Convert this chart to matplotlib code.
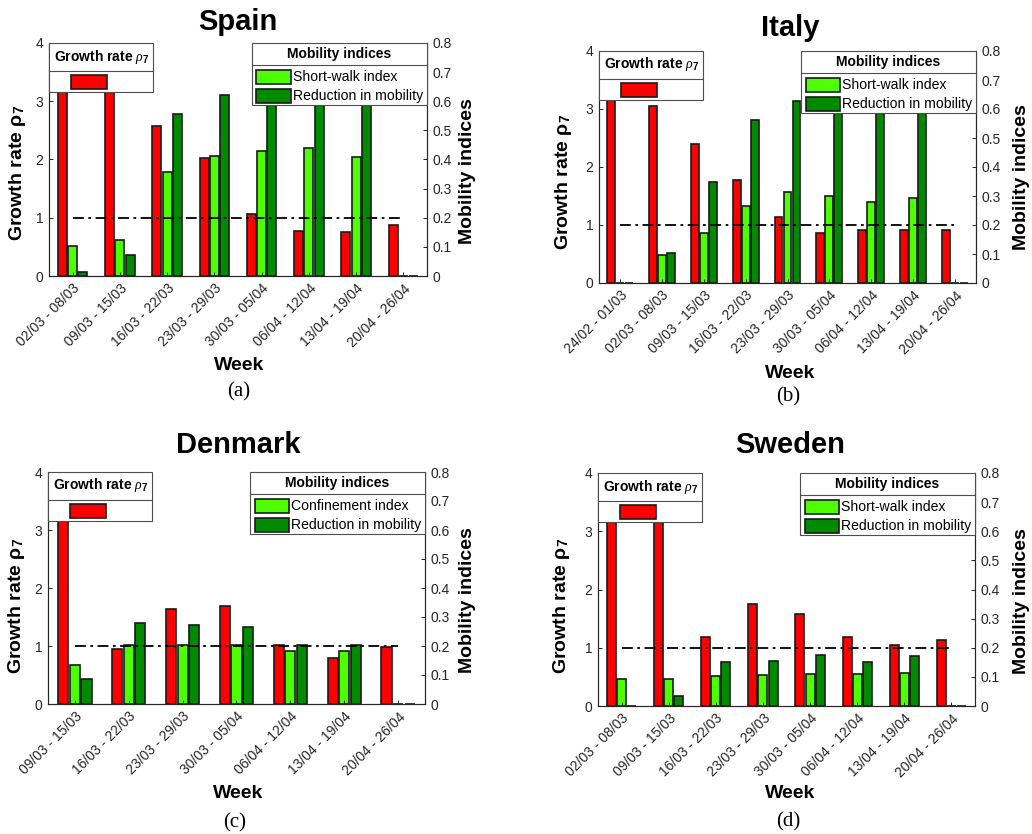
import numpy as np
import matplotlib
matplotlib.use("Agg")
import matplotlib.pyplot as plt
from matplotlib.patches import Rectangle
from matplotlib.lines import Line2D

plt.rcParams['font.family'] = ['Liberation Sans', 'DejaVu Sans']
plt.rcParams['mathtext.fontset'] = 'custom'
plt.rcParams['mathtext.rm'] = 'Liberation Sans'
plt.rcParams['mathtext.it'] = 'Liberation Serif:italic'
plt.rcParams['mathtext.bf'] = 'Liberation Sans:bold'

# ---- data -------------------------------------------------------------
weeks_es = ["02/03 - 08/03", "09/03 - 15/03", "16/03 - 22/03", "23/03 - 29/03",
            "30/03 - 05/04", "06/04 - 12/04", "13/04 - 19/04", "20/04 - 26/04"]
growth_es = [4.8, 4.4, 2.58, 2.03, 1.07, 0.77, 0.75, 0.87]
index_es = [0.102, 0.123, 0.358, 0.411, 0.43, 0.44, 0.41, 0.0]
reduction_es = [0.014, 0.073, 0.556, 0.62, 0.66, 0.68, 0.67, 0.0]

weeks_it = ["24/02 - 01/03", "02/03 - 08/03", "09/03 - 15/03", "16/03 - 22/03",
            "23/03 - 29/03", "30/03 - 05/04", "06/04 - 12/04", "13/04 - 19/04",
            "20/04 - 26/04"]
growth_it = [4.6, 3.05, 2.39, 1.78, 1.14, 0.87, 0.91, 0.91, 0.91]
index_it = [0.0, 0.097, 0.174, 0.266, 0.314, 0.30, 0.28, 0.292, 0.0]
reduction_it = [0.0, 0.103, 0.35, 0.563, 0.629, 0.66, 0.67, 0.66, 0.0]

weeks_dk = ["09/03 - 15/03", "16/03 - 22/03", "23/03 - 29/03", "30/03 - 05/04",
            "06/04 - 12/04", "13/04 - 19/04", "20/04 - 26/04"]
growth_dk = [4.5, 0.94, 1.64, 1.69, 1.02, 0.80, 0.99]
index_dk = [0.134, 0.202, 0.203, 0.203, 0.184, 0.183, 0.0]
reduction_dk = [0.085, 0.278, 0.272, 0.266, 0.205, 0.202, 0.0]

weeks_se = ["02/03 - 08/03", "09/03 - 15/03", "16/03 - 22/03", "23/03 - 29/03",
            "30/03 - 05/04", "06/04 - 12/04", "13/04 - 19/04", "20/04 - 26/04"]
growth_se = [4.7, 4.3, 1.19, 1.75, 1.58, 1.18, 1.04, 1.13]
index_se = [0.094, 0.094, 0.104, 0.107, 0.111, 0.111, 0.114, 0.0]
reduction_se = [0.0, 0.036, 0.152, 0.154, 0.175, 0.152, 0.17, 0.0]

RED = '#ff0000'
LGREEN = '#4dff00'
DGREEN = '#008a00'
EDGE = '#1a1a1a'
AXC = '#262626'

W, H = 1032, 834
fig = plt.figure(figsize=(W / 100, H / 100), dpi=100)


def px_ax(x0, y0, x1, y1):
    return fig.add_axes([x0 / W, 1 - y1 / H, (x1 - x0) / W, (y1 - y0) / H])


def legends(ax, index_label):
    tr = ax.transAxes
    z = 50
    # growth-rate legend (top left)
    ax.add_patch(Rectangle((0, 0.79), 0.275, 0.21, transform=tr, facecolor='white',
                           edgecolor='#4d4d4d', lw=0.8, zorder=z, clip_on=False))
    ax.add_line(Line2D([0, 0.275], [0.88, 0.88], transform=tr, color='#4d4d4d',
                       lw=0.8, zorder=z + 1, clip_on=False))
    ax.text(0.012, 0.942, r'Growth rate $\mathit{\rho}_\mathbf{7}$', transform=tr,
            fontsize=10, fontweight='bold', ha='left', va='center', zorder=z + 2)
    ax.add_patch(Rectangle((0.058, 0.803), 0.095, 0.06, transform=tr, facecolor=RED,
                           edgecolor=EDGE, lw=1.2, zorder=z + 2, clip_on=False))
    # mobility legend (top right)
    ax.add_patch(Rectangle((0.537, 0.734), 0.463, 0.266, transform=tr, facecolor='white',
                           edgecolor='#4d4d4d', lw=0.8, zorder=z, clip_on=False))
    ax.add_line(Line2D([0.537, 1.0], [0.906, 0.906], transform=tr, color='#4d4d4d',
                       lw=0.8, zorder=z + 1, clip_on=False))
    ax.text(0.768, 0.952, 'Mobility indices', transform=tr, fontsize=10,
            fontweight='bold', ha='center', va='center', zorder=z + 2)
    for yc, col, lab in [(0.854, LGREEN, index_label), (0.772, DGREEN, 'Reduction in mobility')]:
        ax.add_patch(Rectangle((0.548, yc - 0.03), 0.092, 0.06, transform=tr, facecolor=col,
                               edgecolor=EDGE, lw=1.2, zorder=z + 2, clip_on=False))
        ax.text(0.645, yc, lab, transform=tr, fontsize=10.1, ha='left', va='center',
                zorder=z + 2)


def panel(box, weeks, growth, index, reduction, index_label):
    ax = px_ax(*box)
    ax2 = ax.twinx()
    ax.set_zorder(ax2.get_zorder() + 1)
    ax.patch.set_visible(False)
    n = len(weeks)
    x = np.arange(1, n + 1)
    w = 0.19
    off = 0.215
    gmax = 4.0
    ax.bar(x - off, np.minimum(growth, gmax), w, color=RED, edgecolor=EDGE, lw=1.2, zorder=3)
    ax2.bar(x, index, w, color=LGREEN, edgecolor=EDGE, lw=1.2, zorder=3)
    ax2.bar(x + off, reduction, w, color=DGREEN, edgecolor=EDGE, lw=1.2, zorder=3)
    ax.plot([1, n], [1, 1], color='black', ls=(0, (6, 2.5, 1.5, 2.5)), lw=1.3, zorder=4)
    ax.set_xlim(0.5, n + 0.5)
    ax.set_ylim(0, gmax)
    ax2.set_ylim(0, 0.8)
    ax.set_yticks([0, 1, 2, 3, 4])
    ax2.set_yticks(np.arange(0, 0.81, 0.1))
    ax2.set_yticklabels(['0'] + [f'{v:.1f}' for v in np.arange(0.1, 0.81, 0.1)])
    ax.set_xticks(x)
    ax.set_xticklabels(weeks, rotation=45, ha='right', rotation_mode='anchor')
    for a in (ax, ax2):
        a.spines['top'].set_visible(False)
        for s in ('left', 'right', 'bottom'):
            a.spines[s].set_color(AXC)
            a.spines[s].set_linewidth(0.8)
        a.tick_params(direction='in', length=3, width=0.7, color=AXC,
                      labelsize=10, labelcolor='#262626', pad=4)
    ax2.tick_params(axis='x', length=0)
    legends(ax, index_label)
    return ax


panels = [
    ((49, 43, 427, 276), weeks_es, growth_es, index_es, reduction_es, 'Short-walk index'),
    ((599, 51, 976, 283), weeks_it, growth_it, index_it, reduction_it, 'Short-walk index'),
    ((48, 472, 425, 704), weeks_dk, growth_dk, index_dk, reduction_dk, 'Confinement index'),
    ((598, 473, 975, 706), weeks_se, growth_se, index_se, reduction_se, 'Short-walk index'),
]
for p in panels:
    panel(*p)

titles = [('Spain', 238, 22), ('Italy', 790, 28), ('Denmark', 238, 445), ('Sweden', 790, 445)]
for t, xp, yp in titles:
    fig.text(xp / W, 1 - yp / H, t, fontsize=21, fontweight='bold', ha='center', va='center')

weeklab = [(239, 366), (790, 373), (238, 794), (790, 794)]
for xp, yp in weeklab:
    fig.text(xp / W, 1 - yp / H, 'Week', fontsize=14, fontweight='bold', ha='center', va='center')

captions = [('(a)', 239, 392), ('(b)', 788, 397), ('(c)', 235, 823), ('(d)', 788, 822)]
for t, xp, yp in captions:
    fig.text(xp / W, 1 - yp / H, t, fontsize=15, family='Liberation Serif',
             ha='center', va='center')

left_lab = [(18, 173), (563, 182), (17, 606), (561, 606)]
right_lab = [(468, 171), (1021, 177), (468, 600), (1021, 601)]
for xp, yp in left_lab:
    fig.text(xp / W, 1 - yp / H, r'Growth rate $\mathbf{\rho}_\mathbf{7}$', fontsize=14,
             fontweight='bold', rotation=90, ha='center', va='center')
for xp, yp in right_lab:
    fig.text(xp / W, 1 - yp / H, 'Mobility indices', fontsize=14, fontweight='bold',
             rotation=90, ha='center', va='center')

fig.savefig('out.png', dpi=100, facecolor='white')
